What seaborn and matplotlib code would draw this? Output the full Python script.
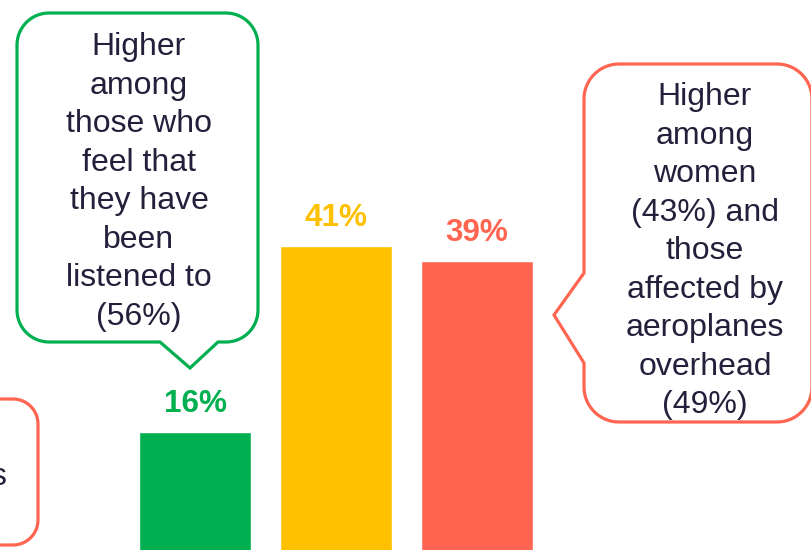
import numpy as np
import pandas as pd
import matplotlib
matplotlib.use("Agg")
import matplotlib.pyplot as plt
import seaborn as sns
from matplotlib.path import Path
from matplotlib.patches import PathPatch
from matplotlib.transforms import Affine2D

# ---- data ----
categories = ["Low", "Medium", "High"]
values = [16, 41, 39]
bar_colors = ["#00AF50", "#FFC000", "#FF6550"]
labels = ["16%", "41%", "39%"]
green_note = "Higher\namong\nthose who\nfeel that\nthey have\nbeen\nlistened to\n(56%)"
red_note = "Higher\namong\nwomen\n(43%) and\nthose\naffected by\naeroplanes\noverhead\n(49%)"
left_note = "s"

sns.set_theme(style="white")
plt.rcParams["font.family"] = ["Liberation Sans", "DejaVu Sans"]

W, H = 811, 550
fig = plt.figure(figsize=(W / 100, H / 100), dpi=100)
ax = fig.add_axes([0, 0, 1, 1])

df = pd.DataFrame({"cat": categories, "val": values})
sns.barplot(data=df, x="cat", y="val", hue="cat", palette=bar_colors,
            width=0.794, saturation=1, legend=False, ax=ax)

ax.set_xlim(-195 / 141, (W - 195) / 141)
ax.set_ylim(0.2, 74.0)
ax.axis("off")

for i, (v, lab, c) in enumerate(zip(values, labels, bar_colors)):
    ax.annotate(lab, xy=(i, v), xytext=(0, 14.4), textcoords="offset points",
                ha="center", va="baseline", fontsize=22.7, fontweight="bold",
                color=c)

# pixel transform (y down)
px = Affine2D().scale(1 / W, -1 / H).translate(0, 1) + fig.transFigure


def callout(x0, y0, x1, y1, r, bottom_ptr=None, left_ptr=None):
    pts = []

    def arc(cx, cy, a0, a1):
        for a in np.linspace(np.radians(a0), np.radians(a1), 16):
            pts.append((cx + r * np.cos(a), cy + r * np.sin(a)))

    arc(x1 - r, y0 + r, -90, 0)
    arc(x1 - r, y1 - r, 0, 90)
    if bottom_ptr:
        pts.extend(bottom_ptr)
    arc(x0 + r, y1 - r, 90, 180)
    if left_ptr:
        pts.extend(left_ptr)
    arc(x0 + r, y0 + r, 180, 270)
    pts.append(pts[0])
    codes = [Path.MOVETO] + [Path.LINETO] * (len(pts) - 2) + [Path.CLOSEPOLY]
    return Path(pts, codes)


tc = "#22203A"
fs = 23
ls = 1.37

# green callout
p = callout(17, 13, 258, 342, 32,
            bottom_ptr=[(218, 342), (190, 368), (160, 342)])
fig.add_artist(PathPatch(p, transform=px, facecolor="white",
                         edgecolor="#00AF50", lw=2.3))
fig.text(139, 32, green_note, transform=px, ha="center", va="top",
         multialignment="center", fontsize=fs, color=tc, linespacing=ls)

# red callout (right)
p = callout(584, 64, 812, 422, 35,
            left_ptr=[(584, 363), (554, 315), (584, 273)])
fig.add_artist(PathPatch(p, transform=px, facecolor="white",
                         edgecolor="#FF6550", lw=2.3))
fig.text(705, 82, red_note, transform=px, ha="center", va="top",
         multialignment="center", fontsize=fs, color=tc, linespacing=ls)

# left partial callout
p = callout(-250, 399, 38, 545, 25)
fig.add_artist(PathPatch(p, transform=px, facecolor="white",
                         edgecolor="#FF6550", lw=2.3))
fig.text(6, 485, left_note, transform=px, ha="right", va="baseline",
         fontsize=fs, color=tc)

fig.savefig("out.png", dpi=100)
